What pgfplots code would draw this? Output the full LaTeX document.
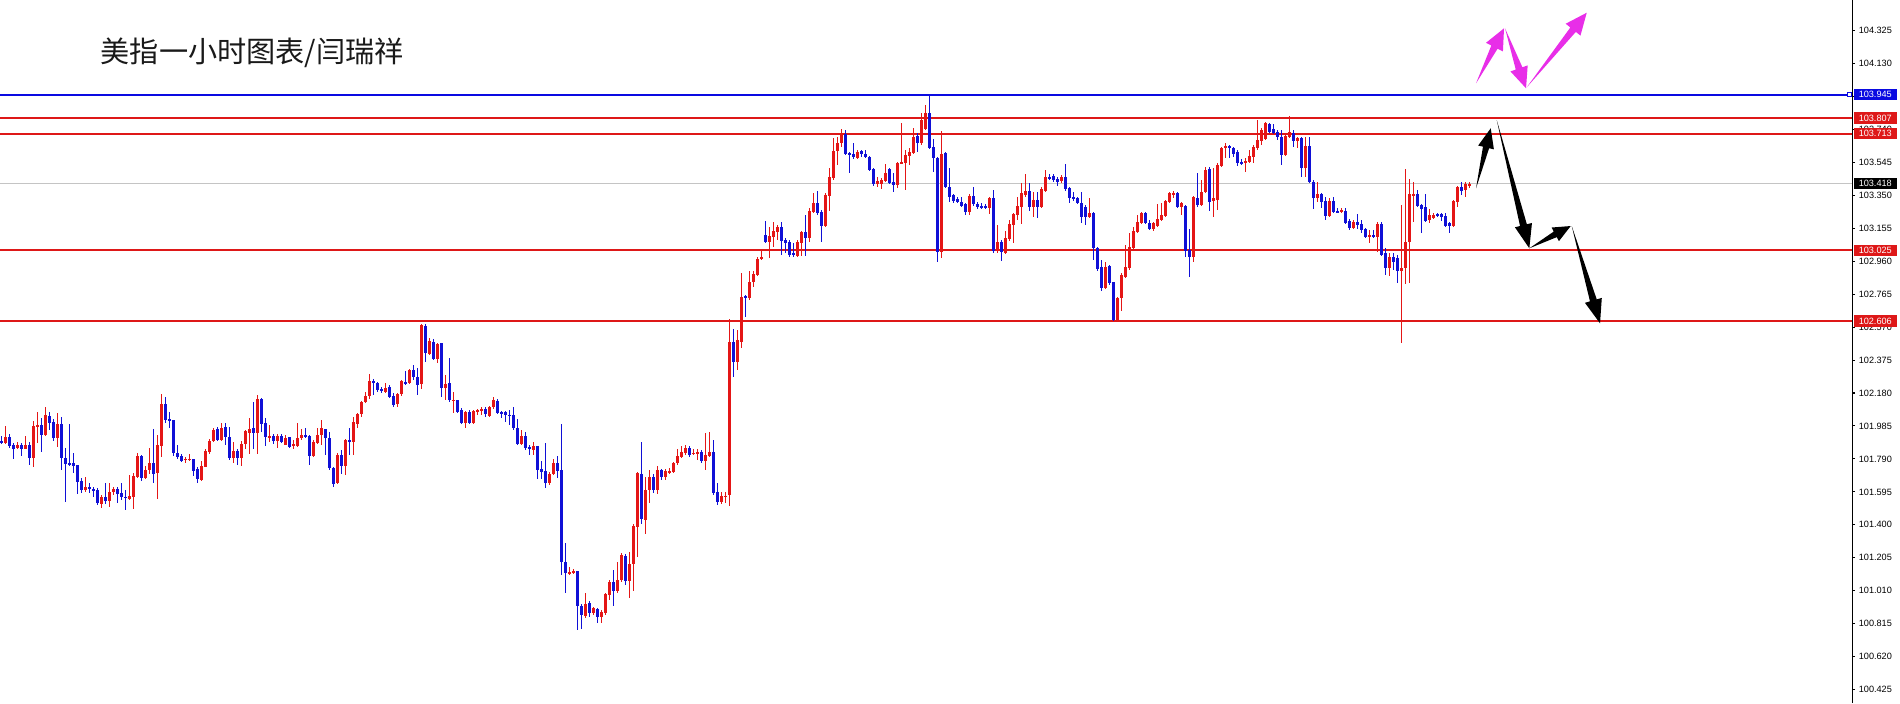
\documentclass[border=0pt]{standalone}
\usepackage{pgfplots}
\pgfplotsset{compat=1.18}
\usepackage{pgfplotstable}
\usepackage{fontspec}
\setmainfont{Liberation Sans}
\newfontfamily\cjk{Noto Sans CJK SC}
\usetikzlibrary{calc}
\definecolor{cRed}{RGB}{228,22,22}
\definecolor{cBlue}{RGB}{16,16,214}
\definecolor{lRed}{RGB}{222,24,24}
\definecolor{lBlue}{RGB}{10,10,225}
\definecolor{cPink}{RGB}{232,46,232}
\definecolor{cGrey}{RGB}{196,196,196}
\pgfplotstableread{
i o h l c
0 101.898 101.926 101.878 101.886
1 101.886 101.987 101.882 101.918
2 101.922 101.941 101.858 101.866
3 101.874 101.882 101.791 101.851
4 101.855 101.892 101.847 101.872
5 101.874 101.888 101.807 101.851
6 101.851 101.926 101.847 101.872
7 101.872 101.890 101.754 101.799
8 101.799 102.014 101.744 101.985
9 101.981 102.070 101.882 101.991
10 101.991 102.036 101.833 101.932
11 101.932 102.095 101.926 102.048
12 102.044 102.070 101.961 102.005
13 102.010 102.030 101.896 101.916
14 101.914 102.060 101.862 101.997
15 101.997 102.036 101.724 101.797
16 101.797 101.853 101.535 101.760
17 101.764 102.001 101.752 101.754
18 101.764 101.823 101.705 101.748
19 101.754 101.758 101.586 101.655
20 101.659 101.675 101.586 101.606
21 101.606 101.685 101.596 101.626
22 101.626 101.646 101.590 101.616
23 101.616 101.626 101.567 101.602
24 101.606 101.616 101.517 101.527
25 101.527 101.577 101.498 101.563
26 101.563 101.646 101.523 101.543
27 101.543 101.650 101.508 101.596
28 101.596 101.626 101.577 101.612
29 101.612 101.626 101.527 101.586
30 101.590 101.646 101.547 101.563
31 101.567 101.606 101.488 101.559
32 101.551 101.695 101.547 101.571
33 101.567 101.705 101.494 101.689
34 101.685 101.823 101.675 101.807
35 101.809 101.817 101.661 101.679
36 101.679 101.748 101.675 101.724
37 101.724 101.853 101.701 101.764
38 101.764 101.971 101.651 101.701
39 101.705 101.932 101.555 101.872
40 101.866 102.172 101.803 102.119
41 102.119 102.154 102.001 102.024
42 102.026 102.070 101.971 102.016
43 102.020 102.022 101.807 101.827
44 101.827 101.872 101.793 101.803
45 101.807 101.823 101.774 101.780
46 101.784 101.803 101.768 101.790
47 101.786 101.823 101.780 101.792
48 101.790 101.793 101.691 101.720
49 101.728 101.744 101.650 101.669
50 101.669 101.780 101.661 101.748
51 101.744 101.847 101.740 101.839
52 101.833 101.912 101.823 101.896
53 101.894 101.971 101.890 101.961
54 101.965 101.981 101.898 101.902
55 101.902 102.006 101.896 101.971
56 101.981 102.001 101.872 101.920
57 101.922 101.981 101.784 101.797
58 101.797 101.892 101.768 101.835
59 101.837 101.853 101.754 101.797
60 101.795 101.896 101.750 101.878
61 101.878 101.961 101.852 101.955
62 101.945 102.030 101.819 101.965
63 101.971 102.129 101.852 101.945
64 101.945 102.168 101.823 102.144
65 102.144 102.148 101.951 102.000
66 102.004 102.030 101.868 101.918
67 101.918 101.990 101.892 101.927
68 101.927 101.941 101.882 101.898
69 101.898 101.941 101.858 101.927
70 101.927 101.937 101.886 101.892
71 101.876 101.931 101.872 101.916
72 101.920 101.922 101.856 101.862
73 101.870 101.902 101.847 101.878
74 101.870 102.006 101.862 101.916
75 101.914 101.965 101.902 101.931
76 101.931 101.977 101.916 101.920
77 101.927 101.931 101.758 101.809
78 101.809 101.902 101.803 101.892
79 101.886 101.971 101.878 101.935
80 101.931 102.020 101.872 101.975
81 101.967 101.971 101.815 101.914
82 101.916 101.951 101.724 101.734
83 101.738 101.744 101.626 101.645
84 101.645 101.823 101.641 101.813
85 101.813 101.843 101.699 101.750
86 101.750 101.906 101.695 101.902
87 101.902 101.975 101.813 101.892
88 101.892 102.036 101.813 102.006
89 101.996 102.065 101.975 102.054
90 102.054 102.134 102.040 102.125
91 102.125 102.188 102.119 102.160
92 102.160 102.292 102.148 102.251
93 102.253 102.263 102.168 102.243
94 102.241 102.247 102.188 102.198
95 102.207 102.217 102.178 102.192
96 102.186 102.237 102.182 102.213
97 102.217 102.227 102.148 102.158
98 102.162 102.178 102.095 102.113
99 102.113 102.182 102.099 102.172
100 102.172 102.257 102.164 102.251
101 102.247 102.312 102.231 102.239
102 102.241 102.326 102.233 102.316
103 102.316 102.345 102.257 102.276
104 102.276 102.326 102.172 102.231
105 102.231 102.588 102.207 102.582
106 102.576 102.588 102.365 102.414
107 102.414 102.503 102.405 102.487
108 102.483 102.503 102.375 102.381
109 102.381 102.478 102.359 102.474
110 102.474 102.478 102.158 102.211
111 102.211 102.286 102.138 102.233
112 102.237 102.385 102.129 102.138
113 102.134 102.188 102.060 102.140
114 102.138 102.142 102.060 102.069
115 102.079 102.089 101.996 102.004
116 102.004 102.073 101.975 102.069
117 102.069 102.079 102.000 102.004
118 102.004 102.083 102.000 102.073
119 102.069 102.083 102.050 102.079
120 102.075 102.095 102.050 102.089
121 102.085 102.095 102.036 102.054
122 102.046 102.103 102.036 102.099
123 102.099 102.158 102.089 102.138
124 102.134 102.148 102.059 102.065
125 102.065 102.075 102.030 102.061
126 102.069 102.075 102.010 102.049
127 102.053 102.079 101.990 102.044
128 102.049 102.095 101.961 101.975
129 101.975 102.030 101.872 101.878
130 101.878 101.961 101.872 101.925
131 101.925 101.951 101.842 101.856
132 101.862 101.872 101.813 101.846
133 101.842 101.892 101.813 101.866
134 101.866 101.868 101.669 101.724
135 101.730 101.777 101.669 101.714
136 101.720 101.882 101.616 101.649
137 101.649 101.714 101.635 101.704
138 101.700 101.793 101.694 101.764
139 101.764 101.807 101.675 101.720
140 101.724 102.000 101.103 101.182
141 101.182 101.294 100.998 101.113
142 101.113 101.152 101.103 101.123
143 101.117 101.142 101.109 101.129
144 101.127 101.129 100.778 100.919
145 100.919 100.935 100.787 100.866
146 100.860 100.998 100.847 100.935
147 100.939 100.951 100.856 100.880
148 100.880 100.916 100.866 100.906
149 100.906 100.912 100.821 100.856
150 100.856 100.896 100.821 100.886
151 100.882 100.994 100.866 100.990
152 100.988 101.073 100.959 101.063
153 101.063 101.132 100.919 101.010
154 101.010 101.182 100.994 101.077
155 101.073 101.235 101.063 101.221
156 101.215 101.227 101.044 101.067
157 101.067 101.241 100.971 101.172
158 101.168 101.409 101.010 101.395
159 101.389 101.714 101.211 101.708
160 101.704 101.892 101.405 101.438
161 101.432 101.685 101.345 101.606
162 101.606 101.724 101.527 101.685
163 101.685 101.698 101.586 101.606
164 101.606 101.748 101.582 101.724
165 101.724 101.734 101.665 101.685
166 101.685 101.734 101.665 101.720
167 101.710 101.734 101.700 101.720
168 101.714 101.773 101.708 101.764
169 101.764 101.848 101.754 101.807
170 101.803 101.866 101.799 101.833
171 101.823 101.876 101.813 101.856
172 101.856 101.866 101.803 101.813
173 101.819 101.852 101.813 101.829
174 101.823 101.852 101.787 101.833
175 101.833 101.842 101.767 101.777
176 101.777 101.945 101.724 101.813
177 101.807 101.951 101.803 101.833
178 101.833 101.901 101.576 101.586
179 101.592 101.645 101.517 101.537
180 101.537 101.596 101.523 101.570
181 101.566 101.596 101.531 101.572
182 101.576 102.617 101.511 102.481
183 102.481 102.558 102.274 102.363
184 102.363 102.552 102.316 102.493
185 102.481 102.890 102.446 102.748
186 102.754 102.760 102.629 102.742
187 102.742 102.901 102.730 102.836
188 102.836 102.901 102.807 102.884
189 102.878 102.984 102.872 102.972
190 102.972 103.026 102.967 102.984
191 103.115 103.197 103.067 103.073
192 103.073 103.162 102.978 103.109
193 103.103 103.191 103.044 103.138
194 103.132 103.174 103.085 103.162
195 103.162 103.191 102.996 103.079
196 103.085 103.097 103.008 103.067
197 103.073 103.085 102.984 102.996
198 103.008 103.067 102.984 102.996
199 102.990 103.085 102.984 103.073
200 103.067 103.138 102.990 103.132
201 103.132 103.233 102.990 103.097
202 103.097 103.274 103.073 103.257
203 103.251 103.363 103.245 103.304
204 103.304 103.375 103.233 103.245
205 103.251 103.262 103.073 103.168
206 103.168 103.363 103.162 103.351
207 103.345 103.511 103.257 103.458
208 103.452 103.688 103.440 103.612
209 103.612 103.694 103.529 103.659
210 103.659 103.742 103.635 103.712
211 103.712 103.736 103.588 103.594
212 103.600 103.606 103.481 103.594
213 103.594 103.659 103.564 103.576
214 103.570 103.617 103.564 103.606
215 103.612 103.617 103.576 103.594
216 103.594 103.617 103.570 103.576
217 103.576 103.582 103.493 103.499
218 103.505 103.511 103.404 103.416
219 103.416 103.458 103.399 103.434
220 103.416 103.452 103.387 103.440
221 103.434 103.535 103.428 103.481
222 103.505 103.511 103.416 103.422
223 103.428 103.481 103.369 103.410
224 103.410 103.546 103.393 103.541
225 103.541 103.777 103.535 103.546
226 103.541 103.617 103.381 103.588
227 103.582 103.629 103.529 103.606
228 103.600 103.748 103.594 103.694
229 103.700 103.718 103.606 103.659
230 103.659 103.836 103.647 103.795
231 103.742 103.884 103.736 103.836
232 103.836 103.949 103.623 103.629
233 103.635 103.683 103.487 103.570
234 103.570 103.576 102.955 103.014
235 103.014 103.730 102.978 103.594
236 103.600 103.606 103.393 103.399
237 103.399 103.511 103.310 103.339
238 103.351 103.357 103.304 103.316
239 103.328 103.339 103.304 103.310
240 103.310 103.339 103.280 103.286
241 103.298 103.304 103.233 103.251
242 103.251 103.357 103.233 103.345
243 103.345 103.399 103.286 103.298
244 103.298 103.310 103.268 103.280
245 103.286 103.304 103.268 103.274
246 103.286 103.298 103.268 103.274
247 103.274 103.339 103.239 103.333
248 103.333 103.381 103.008 103.020
249 103.020 103.174 103.008 103.073
250 103.073 103.085 102.961 103.014
251 103.008 103.138 103.002 103.097
252 103.091 103.203 103.079 103.180
253 103.174 103.245 103.067 103.239
254 103.233 103.339 103.203 103.286
255 103.280 103.422 103.180 103.363
256 103.351 103.475 103.339 103.375
257 103.375 103.422 103.257 103.280
258 103.280 103.369 103.221 103.322
259 103.322 103.369 103.215 103.280
260 103.280 103.399 103.276 103.387
261 103.375 103.499 103.369 103.458
262 103.458 103.475 103.440 103.446
263 103.464 103.475 103.428 103.440
264 103.446 103.458 103.404 103.428
265 103.434 103.470 103.422 103.458
266 103.458 103.535 103.375 103.387
267 103.393 103.399 103.304 103.333
268 103.339 103.369 103.316 103.333
269 103.333 103.339 103.298 103.304
270 103.304 103.369 103.186 103.221
271 103.280 103.292 103.174 103.221
272 103.221 103.333 103.215 103.245
273 103.245 103.251 102.967 103.038
274 103.038 103.044 102.901 102.913
275 102.925 102.967 102.783 102.801
276 102.801 102.955 102.795 102.925
277 102.931 102.937 102.819 102.830
278 102.836 102.840 102.606 102.612
279 102.612 102.748 102.600 102.742
280 102.742 102.890 102.665 102.878
281 102.866 103.055 102.860 102.925
282 102.919 103.126 102.907 103.044
283 103.038 103.162 103.032 103.138
284 103.132 103.233 103.126 103.191
285 103.186 103.251 103.180 103.245
286 103.245 103.251 103.180 103.186
287 103.186 103.203 103.144 103.150
288 103.150 103.191 103.138 103.186
289 103.168 103.298 103.162 103.209
290 103.203 103.304 103.197 103.233
291 103.227 103.322 103.221 103.316
292 103.310 103.369 103.304 103.363
293 103.351 103.375 103.333 103.363
294 103.363 103.369 103.274 103.280
295 103.280 103.310 103.233 103.304
296 103.286 103.292 102.984 103.020
297 103.026 103.150 102.866 102.984
298 102.984 103.345 102.955 103.339
299 103.333 103.481 103.280 103.292
300 103.292 103.440 103.286 103.369
301 103.369 103.517 103.363 103.499
302 103.505 103.517 103.257 103.310
303 103.316 103.511 103.221 103.333
304 103.322 103.541 103.262 103.529
305 103.523 103.635 103.517 103.629
306 103.629 103.659 103.570 103.641
307 103.641 103.647 103.570 103.629
308 103.629 103.635 103.576 103.594
309 103.606 103.617 103.523 103.541
310 103.546 103.564 103.529 103.535
311 103.541 103.570 103.487 103.552
312 103.546 103.617 103.541 103.582
313 103.576 103.647 103.541 103.635
314 103.629 103.795 103.617 103.677
315 103.671 103.748 103.647 103.736
316 103.683 103.783 103.677 103.777
317 103.771 103.777 103.718 103.724
318 103.742 103.771 103.712 103.718
319 103.724 103.736 103.677 103.694
320 103.694 103.736 103.529 103.588
321 103.588 103.718 103.582 103.700
322 103.694 103.819 103.690 103.724
323 103.718 103.736 103.635 103.671
324 103.671 103.694 103.629 103.688
325 103.688 103.694 103.458 103.511
326 103.511 103.694 103.458 103.641
327 103.641 103.694 103.422 103.428
328 103.428 103.440 103.268 103.333
329 103.333 103.428 103.310 103.357
330 103.357 103.363 103.274 103.310
331 103.316 103.339 103.203 103.227
332 103.227 103.333 103.221 103.316
333 103.316 103.339 103.245 103.251
334 103.257 103.274 103.245 103.251
335 103.251 103.274 103.245 103.262
336 103.257 103.274 103.180 103.186
337 103.197 103.209 103.144 103.156
338 103.156 103.203 103.150 103.191
339 103.191 103.239 103.150 103.174
340 103.180 103.203 103.126 103.144
341 103.150 103.156 103.097 103.103
342 103.103 103.144 103.067 103.115
343 103.115 103.144 103.097 103.103
344 103.103 103.191 103.014 103.180
345 103.180 103.191 102.990 102.996
346 103.008 103.038 102.878 102.919
347 102.919 103.008 102.872 102.984
348 102.984 103.008 102.907 102.955
349 102.978 102.996 102.830 102.901
350 102.901 103.292 102.475 102.919
351 102.919 103.505 102.825 103.073
352 103.073 103.446 102.830 103.357
353 103.351 103.428 103.191 103.357
354 103.357 103.381 103.280 103.286
355 103.292 103.298 103.126 103.268
356 103.280 103.357 103.191 103.197
357 103.203 103.268 103.186 103.233
358 103.215 103.245 103.209 103.233
359 103.239 103.245 103.221 103.227
360 103.239 103.245 103.197 103.221
361 103.227 103.245 103.162 103.168
362 103.186 103.191 103.126 103.168
363 103.168 103.322 103.162 103.316
364 103.310 103.404 103.280 103.399
365 103.399 103.428 103.351 103.375
366 103.381 103.428 103.339 103.416
367 103.410 103.428 103.393 103.418
}\candles
\newcommand{\fatarrow}[8]{%
  \coordinate (S) at (#1,#2);
  \coordinate (T) at (#3,#4);
  \coordinate (P) at ($(T)!#6!(S)$);
  \fill[#5] (S) -- ($(P)!#8!90:(T)$) -- ($(P)!#7!90:(T)$) -- (T)
     -- ($(P)!#7!-90:(T)$) -- ($(P)!#8!-90:(T)$) -- cycle;
}
\newcommand{\pricetag}[3]{% y, color, text
  \fill[#2] (1854,#1-5.6) rectangle (1897,#1+5.6);
  \node[anchor=west, inner sep=0pt, text=white, font=\fontsize{2.6}{3}\selectfont] at (1858,#1) {#3};
}
\begin{document}
\begin{tikzpicture}
\path[use as bounding box] (0,0) rectangle (19cm,7.03cm);
\begin{axis}[
  at={(0,0)}, anchor=south west, scale only axis,
  width=18.52cm, height=7.03cm,
  xmin=-0.375, xmax=462.625, ymin=100.346, ymax=104.505,
  axis x line=none, axis y line*=right,
  axis line style={black, line width=0.3pt},
  ytick={100.425,100.620,100.815,101.010,101.205,101.400,101.595,101.790,101.985,102.180,102.375,102.570,102.765,102.960,103.155,103.350,103.545,103.740,103.935,104.130,104.325},
  yticklabels={100.425,100.620,100.815,101.010,101.205,101.400,101.595,101.790,101.985,102.180,102.375,102.570,102.765,102.960,103.155,103.350,103.545,103.740,103.935,104.130,104.325},
  tick align=outside, major tick length=0.85pt,
  tick style={black, line width=0.3pt},
  yticklabel style={font=\fontsize{2.6}{3}\selectfont, anchor=west, inner sep=0pt, xshift=0.9pt},
  clip=false,
]
% horizontal levels
\addplot[cGrey, line width=0.28pt, forget plot] coordinates {(-0.375,103.418) (462.625,103.418)};
\addplot[lBlue, line width=0.5pt, forget plot] coordinates {(-0.375,103.945) (461.6,103.945)};
\addplot[lRed, line width=0.45pt, forget plot] coordinates {(-0.375,103.807) (462.625,103.807)};
\addplot[lRed, line width=0.45pt, forget plot] coordinates {(-0.375,103.713) (462.625,103.713)};
\addplot[lRed, line width=0.45pt, forget plot] coordinates {(-0.375,103.025) (462.625,103.025)};
\addplot[lRed, line width=0.45pt, forget plot] coordinates {(-0.375,102.606) (462.625,102.606)};
% up candles: wicks and bodies
\addplot[draw=none, mark=none, forget plot,
  error bars/.cd, y dir=both, y explicit, error mark=none,
  error bar style={draw=cRed, line width=0.3pt}]
  table[x=i, y expr={(\thisrow{h}+\thisrow{l})/2}, y error expr={(\thisrow{h}-\thisrow{l})/2},
        restrict expr to domain={\thisrow{c}-\thisrow{o}}{0:10}] {\candles};
\addplot[draw=none, mark=none, forget plot,
  error bars/.cd, y dir=both, y explicit, error mark=none,
  error bar style={draw=cRed, line width=0.85pt}]
  table[x=i, y expr={(\thisrow{o}+\thisrow{c})/2}, y error expr={max(abs(\thisrow{c}-\thisrow{o})/2,0.004)},
        restrict expr to domain={\thisrow{c}-\thisrow{o}}{0:10}] {\candles};
% down candles
\addplot[draw=none, mark=none, forget plot,
  error bars/.cd, y dir=both, y explicit, error mark=none,
  error bar style={draw=cBlue, line width=0.3pt}]
  table[x=i, y expr={(\thisrow{h}+\thisrow{l})/2}, y error expr={(\thisrow{h}-\thisrow{l})/2},
        restrict expr to domain={\thisrow{c}-\thisrow{o}}{-10:-0.0000001}] {\candles};
\addplot[draw=none, mark=none, forget plot,
  error bars/.cd, y dir=both, y explicit, error mark=none,
  error bar style={draw=cBlue, line width=0.85pt}]
  table[x=i, y expr={(\thisrow{o}+\thisrow{c})/2}, y error expr={max(abs(\thisrow{c}-\thisrow{o})/2,0.004)},
        restrict expr to domain={\thisrow{c}-\thisrow{o}}{-10:-0.0000001}] {\candles};
\end{axis}
\begin{scope}[shift={(0cm,7.03cm)}, x=0.1mm, y=-0.1mm]
  % title
  \node[anchor=west, inner sep=0pt, text=black!90] at (100,53) {\cjk\fontsize{8.3}{10}\selectfont 美指一小时图表/闫瑞祥};
  % price tags
  \draw[lBlue, line width=0.3pt] (1847.5,92.6) rectangle (1851.5,96.6);
  \pricetag{94.6}{lBlue}{103.945}
  \pricetag{118}{lRed}{103.807}
  \pricetag{133.8}{lRed}{103.713}
  \pricetag{183.7}{black}{103.418}
  \pricetag{250.1}{lRed}{103.025}
  \pricetag{320.9}{lRed}{102.606}
  % magenta arrows
  \fatarrow{1476}{83.3}{1504}{28.3}{cPink}{6pt}{2.7pt}{1.0pt}
  \fatarrow{1505}{28.3}{1526}{88.3}{cPink}{6pt}{2.6pt}{1.0pt}
  \fatarrow{1526.7}{87.3}{1586.7}{12.7}{cPink}{6.2pt}{2.7pt}{1.0pt}
  % black arrows
  \fatarrow{1476}{188.3}{1490.7}{128.3}{black}{5.6pt}{2.3pt}{0.9pt}
  \fatarrow{1496.7}{120}{1529.3}{248.3}{black}{6.8pt}{2.5pt}{1.0pt}
  \fatarrow{1529.3}{248.3}{1570.7}{226}{black}{5.0pt}{2.2pt}{0.9pt}
  \fatarrow{1571.7}{226}{1600}{323.3}{black}{6.8pt}{2.5pt}{1.0pt}
\end{scope}
\end{tikzpicture}
\end{document}
